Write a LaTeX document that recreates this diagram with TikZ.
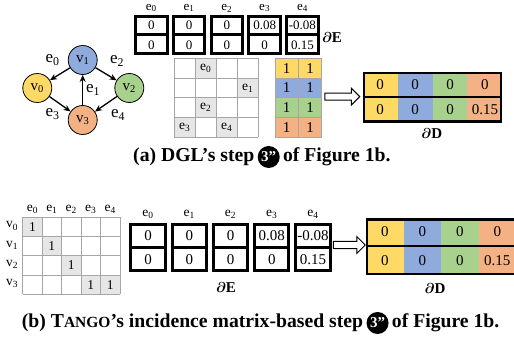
\documentclass[tikz,border=0pt]{standalone}
\usepackage{fontspec}
\setmainfont{Liberation Serif}
\usepackage{amsmath}
\usetikzlibrary{arrows.meta,positioning,shapes.arrows}

\definecolor{cy}{HTML}{FFD966}
\definecolor{cb}{HTML}{8FAADC}
\definecolor{cg}{HTML}{A9D18E}
\definecolor{co}{HTML}{F4B183}
\definecolor{cs}{HTML}{E7E6E6}
\definecolor{cl}{HTML}{A6A6A6}

\tikzset{
  vtx/.style={circle,draw,line width=0.8pt,minimum size=29pt,inner sep=0pt,font=\fontsize{15}{18}\selectfont},
  edg/.style={-{Stealth[length=7pt,width=6pt]},line width=1.3pt},
  elab/.style={inner sep=0pt,font=\fontsize{17}{20}\selectfont},
  num/.style={inner sep=0pt,font=\fontsize{15}{18}\selectfont},
  numa/.style={inner sep=0pt,font=\fontsize{13}{16}\selectfont},
  sml/.style={inner sep=0pt,font=\fontsize{13.5}{16}\selectfont},
  hdr/.style={inner sep=0pt,font=\fontsize{13}{15}\selectfont},
  dlab/.style={inner sep=0pt,font=\fontsize{15}{18}\selectfont},
  gl/.style={cl,line width=1pt},
  capt/.style={inner sep=0pt,font=\fontsize{19.7}{23}\selectfont\bfseries},
  badge/.style={circle,fill=black,text=white,inner sep=0pt,minimum size=22pt,font=\fontsize{15}{17}\selectfont\bfseries},
  fwd/.style={single arrow,draw,line width=1pt,fill=white,inner sep=3pt,single arrow head extend=5pt},
}

\begin{document}
\begin{tikzpicture}[x=1pt,y=-1pt]
  \useasboundingbox (0,0) rectangle (514,339);

  % 图
  \node[vtx,fill=cb] (v1) at (82.7,60) {v\textsubscript{1}};
  \node[vtx,fill=cy] (v0) at (37.3,88) {v\textsubscript{0}};
  \node[vtx,fill=cg] (v2) at (129.3,88) {v\textsubscript{2}};
  \node[vtx,fill=co] (v3) at (82.7,120) {v\textsubscript{3}};
  \draw[edg] (v1) -- (v0);
  \draw[edg] (v3) -- (v1);
  \draw[edg] (v1) -- (v2);
  \draw[edg] (v0) -- (v3);
  \draw[edg] (v2) -- (v3);
  \node[elab] (l0) at (52.7,60) {e\textsubscript{0}};
  \node[elab] (l1) at (93,90) {e\textsubscript{1}};
  \node[elab] (l2) at (117,61) {e\textsubscript{2}};
  \node[elab] (l3) at (52.7,114) {e\textsubscript{3}};
  \node[elab] (l4) at (118,115) {e\textsubscript{4}};

  % (a) 边特征梯度
  \foreach \i/\a/\b [evaluate=\i as \xl using 134+37.8*\i] in {0/0/0,1/0/0,2/0/0,3/0.08/0,4/-0.08/0.15} {
    \node[hdr] (ha\i) at (\xl+17.25,8) {e\textsubscript{\i}};
    \node[numa] (ea\i a) at (\xl+17.25,25) {\a};
    \node[numa] (ea\i b) at (\xl+17.25,45) {\b};
    \draw[line width=3pt] (\xl+1.5,16.5) rectangle (\xl+33,53.5);
    \draw[line width=3pt] (\xl,35) -- (\xl+34.5,35);
  }
  \node[dlab] (dEa) at (332,38) {$\boldsymbol{\partial}\mathbf{E}$};

  % (a) 掩码
  \foreach \c/\r/\k in {1/0/0,3/1/1,1/2/2,0/3/3,2/3/4} {
    \fill[cs] (174.3+21*\c,58.3+19.75*\r) rectangle ++(21,19.75);
    \node[sml] (m\k) at (184.8+21*\c,68.2+19.75*\r) {e\textsubscript{\k}};
  }
  \foreach \c in {0,...,4} \draw[gl] (174.3+21*\c,58.3) -- (174.3+21*\c,137.3);
  \foreach \r in {0,...,4} \draw[gl] (174.3,58.3+19.75*\r) -- (258.3,58.3+19.75*\r);

  % (a) 顶点颜色
  \foreach \r/\cc in {0/cy,1/cb,2/cg,3/co} {
    \fill[\cc] (275,58.3+19.75*\r) rectangle (321.7,78.05+19.75*\r);
    \node[num] (ca\r a) at (286.7,68.2+19.75*\r) {1};
    \node[num] (ca\r b) at (310,68.2+19.75*\r) {1};
  }
  \foreach \c in {0,1,2} \draw[gl] (275+23.35*\c,58.3) -- (275+23.35*\c,137.3);
  \foreach \r in {0,...,4} \draw[gl] (275,58.3+19.75*\r) -- (321.7,58.3+19.75*\r);

  \node[fwd,minimum height=35pt] (fa) at (340.5,96.7) {};

  % (a) 结果
  \foreach \c/\cc/\a/\b in {0/cy/0/0,1/cb/0/0,2/cg/0/0,3/co/0/0.15} {
    \fill[\cc] (362.7+34.9*\c,71.7) rectangle ++(34.9,51);
    \node[num] (da\c a) at (380.2+34.9*\c,84.5) {\a};
    \node[num] (da\c b) at (380.2+34.9*\c,110) {\b};
  }
  \draw[line width=2.5pt] (363.9,72.9) rectangle (501.1,121.5);
  \draw[line width=2.5pt] (362.7,97.2) -- (502.3,97.2);
  \node[dlab] (dDa) at (431.7,133.3) {$\boldsymbol{\partial}\mathbf{D}$};

  % (a) 标题
  \node[capt,anchor=west] (capa) at (133,157) {(a) DGL’s step};
  \node[badge,right=3pt of capa] (bga) {3”};
  \node[capt,right=3pt of bga] (capaf) {of Figure 1b.};

  % (b) 关联矩阵
  \foreach \c/\r in {0/0,1/1,2/2,3/3,4/3} {
    \fill[cs] (22.7+19.46*\c,217.3+19.25*\r) rectangle ++(19.46,19.25);
    \node[sml] (ib\c) at (32.4+19.46*\c,226.9+19.25*\r) {1};
  }
  \foreach \c in {0,...,5} \draw[gl] (22.7+19.46*\c,217.3) -- (22.7+19.46*\c,294.3);
  \foreach \r in {0,...,4} \draw[gl] (22.7,217.3+19.25*\r) -- (120,217.3+19.25*\r);
  \foreach \c in {0,...,4} \node[sml] (hb\c) at (32.4+19.46*\c,209) {e\textsubscript{\c}};
  \foreach \r in {0,...,3} \node[sml] (rb\r) at (12,226+19.25*\r) {v\textsubscript{\r}};

  % (b) 边特征梯度
  \foreach \i/\a/\b [evaluate=\i as \xl using 129.3+41.25*\i] in {0/0/0,1/0/0,2/0/0,3/0.08/0,4/-0.08/0.15} {
    \node[sml] (hb\i e) at (\xl+18.7,214) {e\textsubscript{\i}};
    \node[num] (eb\i a) at (\xl+18.7,235.5) {\a};
    \node[num] (eb\i b) at (\xl+18.7,259.5) {\b};
    \draw[line width=3pt] (\xl+1.5,225) rectangle (\xl+35.9,270);
    \draw[line width=3pt] (\xl,247.5) -- (\xl+37.4,247.5);
  }
  \node[dlab] (dEb) at (226,287.3) {$\boldsymbol{\partial}\mathbf{E}$};

  \node[fwd,minimum height=32pt] (fb) at (347.5,245) {};

  % (b) 结果
  \foreach \c/\cc/\a/\b in {0/cy/0/0,1/cb/0/0,2/cg/0/0,3/co/0/0.15} {
    \fill[\cc] (366+37.5*\c,218.3) rectangle ++(37.5,56.7);
    \node[num] (db\c a) at (384.75+37.5*\c,232) {\a};
    \node[num] (db\c b) at (384.75+37.5*\c,260.5) {\b};
  }
  \draw[line width=2.5pt] (367.2,219.5) rectangle (514.8,273.8);
  \draw[line width=2.5pt] (366,246) -- (516,246);
  \node[dlab] (dDb) at (435,289) {$\boldsymbol{\partial}\mathbf{D}$};

  % (b) 标题
  \node[capt,anchor=west] (capb) at (21.7,323) {(b) T{\fontsize{15.5}{18}\selectfont ANGO}’s incidence matrix-based step};
  \node[badge,right=3pt of capb] (bgb) {3”};
  \node[capt,right=3pt of bgb] (capbf) {of Figure 1b.};
\end{tikzpicture}
\end{document}
